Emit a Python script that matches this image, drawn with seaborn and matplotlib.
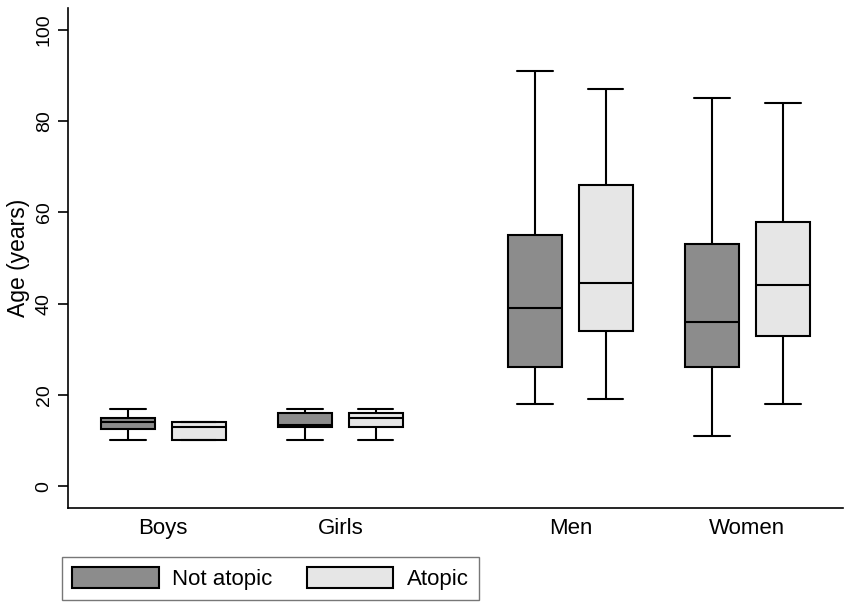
import numpy as np
import pandas as pd
import matplotlib
matplotlib.use("Agg")
import matplotlib.pyplot as plt
from matplotlib.patches import Patch
import seaborn as sns

# five-number summaries: min, q1, median, q3, max
groups = ["Boys", "Girls", "Men", "Women"]
status = ["Not atopic", "Atopic"]
boys_not_atopic = [10, 12.5, 14, 15, 17]
boys_atopic = [10, 10, 13, 14, 14]
girls_not_atopic = [10, 13, 13.5, 16, 17]
girls_atopic = [10, 13, 15, 16, 17]
men_not_atopic = [18, 26, 39, 55, 91]
men_atopic = [19, 34, 44.5, 66, 87]
women_not_atopic = [11, 26, 36, 53, 85]
women_atopic = [18, 33, 44, 58, 84]

# x position of each group (children and adults separated by a wider gap)
group_pos = [0, 1, 2.3, 3.3]

summaries = {
    ("Boys", "Not atopic"): boys_not_atopic,
    ("Boys", "Atopic"): boys_atopic,
    ("Girls", "Not atopic"): girls_not_atopic,
    ("Girls", "Atopic"): girls_atopic,
    ("Men", "Not atopic"): men_not_atopic,
    ("Men", "Atopic"): men_atopic,
    ("Women", "Not atopic"): women_not_atopic,
    ("Women", "Atopic"): women_atopic,
}

rows = []
for g, pos in zip(groups, group_pos):
    for s in status:
        for v in summaries[(g, s)]:
            rows.append({"pos": pos, "status": s, "age": v})
df = pd.DataFrame(rows)

colores = {"Not atopic": "#8c8c8c", "Atopic": "#e6e6e6"}

sns.set_style("white")
plt.rcParams["font.family"] = ["Liberation Sans", "DejaVu Sans"]
plt.rcParams["text.color"] = "black"
plt.rcParams["axes.labelcolor"] = "black"
plt.rcParams["xtick.color"] = "black"
plt.rcParams["ytick.color"] = "black"

fig = plt.figure(figsize=(8.51, 6.09), dpi=100)
ax = fig.add_axes([68 / 851, 1 - 508 / 609, 775 / 851, 500 / 609])

sns.boxplot(data=df, x="pos", y="age", hue="status", hue_order=status,
            palette=colores, saturation=1, native_scale=True, dodge=True,
            whis=(0, 100), gap=0.24, linewidth=1.5, linecolor="black",
            capwidths=0.2, legend=False, ax=ax)

ax.set_xlim(-0.538, 3.84)
ax.set_ylim(-4.8, 104.8)
ax.set_xticks(group_pos)
ax.set_xticklabels(groups, fontsize=16)
ax.set_yticks([0, 20, 40, 60, 80, 100])
ax.tick_params(axis="y", left=True, labelrotation=90, labelsize=14,
               length=7, width=1.2, pad=4, colors="black")
ax.tick_params(axis="x", bottom=False, length=0, pad=7, colors="black")
for lab in ax.get_yticklabels():
    lab.set_va("center")
ax.set_xlabel("")
ax.set_ylabel("Age (years)", fontsize=16.5, labelpad=4)

for lado in ["top", "right"]:
    ax.spines[lado].set_visible(False)
for lado in ["left", "bottom"]:
    ax.spines[lado].set_color("black")
    ax.spines[lado].set_linewidth(1.2)

handles = [Patch(facecolor=colores[s], edgecolor="black", linewidth=1.5, label=s) for s in status]
leg = fig.legend(handles=handles, loc="upper left", bbox_to_anchor=(62 / 851, 1 - 557 / 609),
                 ncol=2, fontsize=16, frameon=True, fancybox=False,
                 handlelength=3.9, handleheight=1.05, handletextpad=0.6,
                 columnspacing=1.55, borderpad=0.45, borderaxespad=0)
leg.get_frame().set_edgecolor("#555555")
leg.get_frame().set_linewidth(1.0)

fig.savefig("out.png", dpi=100)
